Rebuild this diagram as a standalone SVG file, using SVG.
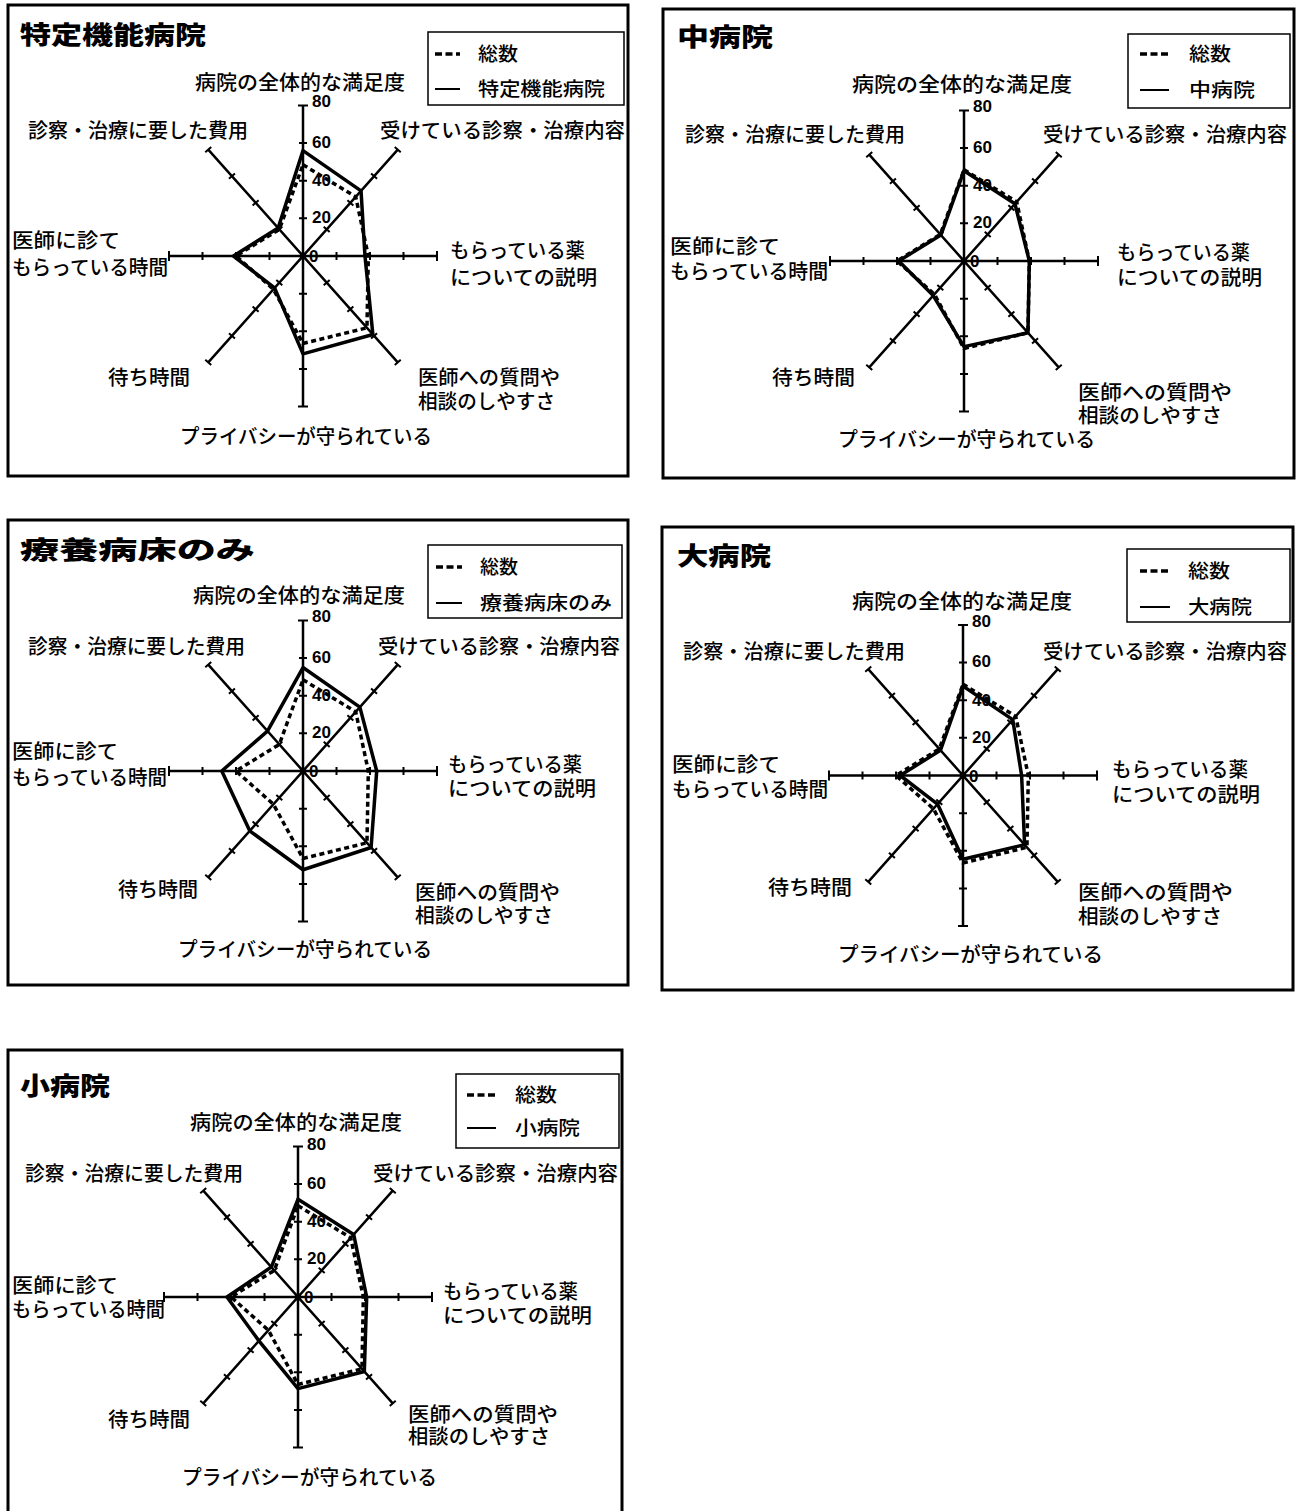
<svg xmlns="http://www.w3.org/2000/svg" xmlns:xlink="http://www.w3.org/1999/xlink" width="1299" height="1511" viewBox="0 0 1299 1511">
<style>
.frame{fill:none;stroke:#000;stroke-width:3}
.legbox{fill:#fff;stroke:#000;stroke-width:1.5}
.ax{fill:none;stroke:#000;stroke-width:2.5}
.tk{fill:none;stroke:#000;stroke-width:2}
.solid{fill:none;stroke:#000;stroke-width:3.5;stroke-linejoin:round}
.dash{fill:none;stroke:#000;stroke-width:3.5;stroke-dasharray:5 3.5}
.legdash{stroke:#000;stroke-width:3.5;stroke-dasharray:7 3.5}
.legsolid{stroke:#000;stroke-width:2}
text{font-family:"Liberation Sans","Noto Sans CJK JP",sans-serif;fill:#000}
.lbl{font-size:20px;font-weight:500}
.leg{font-size:19px;font-weight:500}
.ttl{font-size:25px;font-weight:900}
.num{font-size:17px;font-weight:bold;font-family:"Liberation Sans",Arial,sans-serif}
</style>
<defs>
<g id="axes">
<path class="ax" d="M0,-150.5V150.5M-134,0H134M-94.75,-106.42L94.75,106.42M-94.75,106.42L94.75,-106.42"/>
<path class="tk" d="M-4,-37.63h8M-4,-75.25h8M-4,-112.88h8M-5,-150.5h10M-4,37.63h8M-4,75.25h8M-4,112.88h8M-5,150.5h10M33.5,-4v8M67,-4v8M100.5,-4v8M134,-5v10M-33.5,-4v8M-67,-4v8M-100.5,-4v8M-134,-5v10M20.70,-29.27l5.98,5.32M44.39,-55.87l5.98,5.32M68.07,-82.48l5.98,5.32M91.76,-109.08l5.98,5.32M-26.68,23.95l5.98,5.32M-50.37,50.55l5.98,5.32M-74.05,77.16l5.98,5.32M-97.74,103.76l5.98,5.32M20.70,29.27l5.98,-5.32M44.39,55.87l5.98,-5.32M68.07,82.48l5.98,-5.32M91.76,109.08l5.98,-5.32M-26.68,-23.95l5.98,-5.32M-50.37,-50.55l5.98,-5.32M-74.05,-77.16l5.98,-5.32M-97.74,-103.76l5.98,-5.32"/>
</g>
</defs>

<!-- Panel 1 -->
<g id="panel-tokutei">
<rect class="frame" x="8" y="5" width="620" height="471"/>
<text class="ttl" x="20" y="44" textLength="186" lengthAdjust="spacingAndGlyphs">特定機能病院</text>
<g id="legend-tokutei">
<rect class="legbox" x="428" y="32" width="196" height="73"/>
<line class="legdash" x1="435" y1="54" x2="460" y2="54"/>
<text class="leg" x="478" y="61" textLength="40" lengthAdjust="spacingAndGlyphs">総数</text>
<line class="legsolid" x1="435" y1="89" x2="460" y2="89"/>
<text class="leg" x="478" y="96" textLength="127" lengthAdjust="spacingAndGlyphs">特定機能病院</text>
</g>
<g id="chart-tokutei" transform="translate(303,256)">
<use href="#axes"/>
<polygon class="solid" points="0,-105.35 58.04,-65.18 61.98,0 69.88,78.48 0,97.83 -28.43,31.93 -69.51,0 -24.87,-27.94"/>
<polygon class="dash" points="0,-91.24 52.71,-59.20 65.33,0 63.96,71.83 0,87.48 -29.61,33.26 -67,0 -23.69,-26.61"/>
<text class="num" x="9" y="-149">80</text>
<text class="num" x="9" y="-108.5">60</text>
<text class="num" x="9" y="-70">40</text>
<text class="num" x="9" y="-33">20</text>
<text class="num" x="6" y="6">0</text>
</g>
<text class="lbl" x="195" y="90" textLength="210" lengthAdjust="spacingAndGlyphs">病院の全体的な満足度</text>
<text class="lbl" x="380" y="138" textLength="245" lengthAdjust="spacingAndGlyphs">受けている診察・治療内容</text>
<text class="lbl" x="28" y="138" textLength="220" lengthAdjust="spacingAndGlyphs">診察・治療に要した費用</text>
<text class="lbl" x="450" y="258" textLength="135" lengthAdjust="spacingAndGlyphs">もらっている薬</text>
<text class="lbl" x="450" y="285" textLength="147" lengthAdjust="spacingAndGlyphs">についての説明</text>
<text class="lbl" x="12" y="248" textLength="108" lengthAdjust="spacingAndGlyphs">医師に診て</text>
<text class="lbl" x="12" y="275" textLength="156" lengthAdjust="spacingAndGlyphs">もらっている時間</text>
<text class="lbl" x="418" y="385" textLength="142" lengthAdjust="spacingAndGlyphs">医師への質問や</text>
<text class="lbl" x="418" y="409" textLength="137" lengthAdjust="spacingAndGlyphs">相談のしやすさ</text>
<text class="lbl" x="108" y="385" textLength="82" lengthAdjust="spacingAndGlyphs">待ち時間</text>
<text class="lbl" x="180" y="444" textLength="252" lengthAdjust="spacingAndGlyphs">プライバシーが守られている</text>
</g>

<!-- Panel 2 -->
<g id="panel-chu">
<rect class="frame" x="663" y="9" width="631" height="469"/>
<text class="ttl" x="677" y="46" textLength="96" lengthAdjust="spacingAndGlyphs">中病院</text>
<g id="legend-chu">
<rect class="legbox" x="1128" y="34" width="162" height="74"/>
<line class="legdash" x1="1140" y1="54" x2="1169" y2="54"/>
<text class="leg" x="1189" y="61" textLength="42" lengthAdjust="spacingAndGlyphs">総数</text>
<line class="legsolid" x1="1140" y1="90" x2="1169" y2="90"/>
<text class="leg" x="1189" y="97" textLength="66" lengthAdjust="spacingAndGlyphs">中病院</text>
</g>
<g id="chart-chu" transform="translate(964,261)">
<use href="#axes"/>
<polygon class="solid" points="0,-90.30 50.93,-57.20 65.33,0 63.96,71.83 0,85.60 -30.79,34.59 -65.33,0 -23.10,-25.94"/>
<polygon class="dash" points="0,-91.24 52.71,-59.20 65.33,0 63.96,71.83 0,87.48 -29.61,33.26 -67,0 -23.69,-26.61"/>
<text class="num" x="9" y="-149">80</text>
<text class="num" x="9" y="-108.5">60</text>
<text class="num" x="9" y="-70">40</text>
<text class="num" x="9" y="-33">20</text>
<text class="num" x="6" y="6">0</text>
</g>
<text class="lbl" x="852" y="92" textLength="220" lengthAdjust="spacingAndGlyphs">病院の全体的な満足度</text>
<text class="lbl" x="1043" y="142" textLength="244" lengthAdjust="spacingAndGlyphs">受けている診察・治療内容</text>
<text class="lbl" x="685" y="142" textLength="220" lengthAdjust="spacingAndGlyphs">診察・治療に要した費用</text>
<text class="lbl" x="1117" y="260" textLength="133" lengthAdjust="spacingAndGlyphs">もらっている薬</text>
<text class="lbl" x="1117" y="285" textLength="145" lengthAdjust="spacingAndGlyphs">についての説明</text>
<text class="lbl" x="670" y="254" textLength="110" lengthAdjust="spacingAndGlyphs">医師に診て</text>
<text class="lbl" x="670" y="279" textLength="158" lengthAdjust="spacingAndGlyphs">もらっている時間</text>
<text class="lbl" x="1078" y="400" textLength="154" lengthAdjust="spacingAndGlyphs">医師への質問や</text>
<text class="lbl" x="1078" y="423" textLength="144" lengthAdjust="spacingAndGlyphs">相談のしやすさ</text>
<text class="lbl" x="772" y="385" textLength="83" lengthAdjust="spacingAndGlyphs">待ち時間</text>
<text class="lbl" x="838" y="447" textLength="257" lengthAdjust="spacingAndGlyphs">プライバシーが守られている</text>
</g>

<!-- Panel 3 -->
<g id="panel-ryoyo">
<rect class="frame" x="8" y="520" width="620" height="465"/>
<text class="ttl" x="20" y="559" textLength="235" lengthAdjust="spacingAndGlyphs">療養病床のみ</text>
<g id="legend-ryoyo">
<rect class="legbox" x="428" y="545" width="194" height="73"/>
<line class="legdash" x1="436" y1="567" x2="462" y2="567"/>
<text class="leg" x="480" y="574" textLength="38" lengthAdjust="spacingAndGlyphs">総数</text>
<line class="legsolid" x1="436" y1="603" x2="462" y2="603"/>
<text class="leg" x="480" y="610" textLength="132" lengthAdjust="spacingAndGlyphs">療養病床のみ</text>
</g>
<g id="chart-ryoyo" transform="translate(303,771)">
<use href="#axes"/>
<polygon class="solid" points="0,-103.47 56.85,-63.85 73.70,0 68.10,76.49 0,98.77 -53.30,59.86 -81.24,0 -35.53,-39.91"/>
<polygon class="dash" points="0,-91.24 52.71,-59.20 65.33,0 63.96,71.83 0,87.48 -29.61,33.26 -67,0 -23.69,-26.61"/>
<text class="num" x="9" y="-149">80</text>
<text class="num" x="9" y="-108.5">60</text>
<text class="num" x="9" y="-70">40</text>
<text class="num" x="9" y="-33">20</text>
<text class="num" x="6" y="6">0</text>
</g>
<text class="lbl" x="193" y="603" textLength="212" lengthAdjust="spacingAndGlyphs">病院の全体的な満足度</text>
<text class="lbl" x="378" y="654" textLength="242" lengthAdjust="spacingAndGlyphs">受けている診察・治療内容</text>
<text class="lbl" x="28" y="654" textLength="217" lengthAdjust="spacingAndGlyphs">診察・治療に要した費用</text>
<text class="lbl" x="448" y="772" textLength="134" lengthAdjust="spacingAndGlyphs">もらっている薬</text>
<text class="lbl" x="448" y="796" textLength="148" lengthAdjust="spacingAndGlyphs">についての説明</text>
<text class="lbl" x="12" y="759" textLength="106" lengthAdjust="spacingAndGlyphs">医師に診て</text>
<text class="lbl" x="12" y="785" textLength="155" lengthAdjust="spacingAndGlyphs">もらっている時間</text>
<text class="lbl" x="415" y="900" textLength="145" lengthAdjust="spacingAndGlyphs">医師への質問や</text>
<text class="lbl" x="415" y="923" textLength="138" lengthAdjust="spacingAndGlyphs">相談のしやすさ</text>
<text class="lbl" x="118" y="897" textLength="80" lengthAdjust="spacingAndGlyphs">待ち時間</text>
<text class="lbl" x="178" y="957" textLength="254" lengthAdjust="spacingAndGlyphs">プライバシーが守られている</text>
</g>

<!-- Panel 4 -->
<g id="panel-dai">
<rect class="frame" x="662" y="527" width="631" height="463"/>
<text class="ttl" x="677" y="565" textLength="94" lengthAdjust="spacingAndGlyphs">大病院</text>
<g id="legend-dai">
<rect class="legbox" x="1127" y="549" width="163" height="73"/>
<line class="legdash" x1="1140" y1="571" x2="1170" y2="571"/>
<text class="leg" x="1188" y="578" textLength="42" lengthAdjust="spacingAndGlyphs">総数</text>
<line class="legsolid" x1="1140" y1="607" x2="1170" y2="607"/>
<text class="leg" x="1188" y="614" textLength="64" lengthAdjust="spacingAndGlyphs">大病院</text>
</g>
<g id="chart-dai" transform="translate(963,775.5)">
<use href="#axes"/>
<polygon class="solid" points="0,-89.36 49.74,-55.87 58.63,0 61.59,69.17 0,83.72 -25.46,28.60 -62.81,0 -22.50,-25.27"/>
<polygon class="dash" points="0,-91.24 52.71,-59.20 65.33,0 63.96,71.83 0,87.48 -29.61,33.26 -67,0 -23.69,-26.61"/>
<text class="num" x="9" y="-149">80</text>
<text class="num" x="9" y="-108.5">60</text>
<text class="num" x="9" y="-70">40</text>
<text class="num" x="9" y="-33">20</text>
<text class="num" x="6" y="6">0</text>
</g>
<text class="lbl" x="852" y="609" textLength="220" lengthAdjust="spacingAndGlyphs">病院の全体的な満足度</text>
<text class="lbl" x="1043" y="659" textLength="244" lengthAdjust="spacingAndGlyphs">受けている診察・治療内容</text>
<text class="lbl" x="683" y="659" textLength="222" lengthAdjust="spacingAndGlyphs">診察・治療に要した費用</text>
<text class="lbl" x="1112" y="777" textLength="136" lengthAdjust="spacingAndGlyphs">もらっている薬</text>
<text class="lbl" x="1112" y="802" textLength="148" lengthAdjust="spacingAndGlyphs">についての説明</text>
<text class="lbl" x="672" y="772" textLength="108" lengthAdjust="spacingAndGlyphs">医師に診て</text>
<text class="lbl" x="672" y="797" textLength="156" lengthAdjust="spacingAndGlyphs">もらっている時間</text>
<text class="lbl" x="1078" y="900" textLength="155" lengthAdjust="spacingAndGlyphs">医師への質問や</text>
<text class="lbl" x="1078" y="924" textLength="144" lengthAdjust="spacingAndGlyphs">相談のしやすさ</text>
<text class="lbl" x="768" y="895" textLength="84" lengthAdjust="spacingAndGlyphs">待ち時間</text>
<text class="lbl" x="838" y="962" textLength="265" lengthAdjust="spacingAndGlyphs">プライバシーが守られている</text>
</g>

<!-- Panel 5 -->
<g id="panel-sho">
<rect class="frame" x="8" y="1050" width="614" height="475"/>
<text class="ttl" x="20" y="1095" textLength="90" lengthAdjust="spacingAndGlyphs">小病院</text>
<g id="legend-sho">
<rect class="legbox" x="456" y="1074" width="163" height="74"/>
<line class="legdash" x1="467" y1="1095" x2="496" y2="1095"/>
<text class="leg" x="515" y="1102" textLength="42" lengthAdjust="spacingAndGlyphs">総数</text>
<line class="legsolid" x1="467" y1="1128" x2="496" y2="1128"/>
<text class="leg" x="515" y="1135" textLength="65" lengthAdjust="spacingAndGlyphs">小病院</text>
</g>
<g id="chart-sho" transform="translate(298,1297)">
<use href="#axes"/>
<polygon class="solid" points="0,-97.83 55.67,-62.52 68.68,0 66.33,74.49 0,91.62 -39.08,43.90 -71.02,0 -26.65,-29.93"/>
<polygon class="dash" points="0,-91.24 52.71,-59.20 65.33,0 63.96,71.83 0,87.48 -29.61,33.26 -67,0 -23.69,-26.61"/>
<text class="num" x="9" y="-147">80</text>
<text class="num" x="9" y="-108.5">60</text>
<text class="num" x="9" y="-70">40</text>
<text class="num" x="9" y="-33">20</text>
<text class="num" x="6" y="6">0</text>
</g>
<text class="lbl" x="190" y="1130" textLength="212" lengthAdjust="spacingAndGlyphs">病院の全体的な満足度</text>
<text class="lbl" x="373" y="1181" textLength="245" lengthAdjust="spacingAndGlyphs">受けている診察・治療内容</text>
<text class="lbl" x="25" y="1181" textLength="218" lengthAdjust="spacingAndGlyphs">診察・治療に要した費用</text>
<text class="lbl" x="443" y="1299" textLength="135" lengthAdjust="spacingAndGlyphs">もらっている薬</text>
<text class="lbl" x="443" y="1323" textLength="149" lengthAdjust="spacingAndGlyphs">についての説明</text>
<text class="lbl" x="12" y="1293" textLength="106" lengthAdjust="spacingAndGlyphs">医師に診て</text>
<text class="lbl" x="12" y="1317" textLength="153" lengthAdjust="spacingAndGlyphs">もらっている時間</text>
<text class="lbl" x="408" y="1422" textLength="150" lengthAdjust="spacingAndGlyphs">医師への質問や</text>
<text class="lbl" x="408" y="1444" textLength="142" lengthAdjust="spacingAndGlyphs">相談のしやすさ</text>
<text class="lbl" x="108" y="1427" textLength="82" lengthAdjust="spacingAndGlyphs">待ち時間</text>
<text class="lbl" x="182" y="1485" textLength="255" lengthAdjust="spacingAndGlyphs">プライバシーが守られている</text>
</g>
</svg>
